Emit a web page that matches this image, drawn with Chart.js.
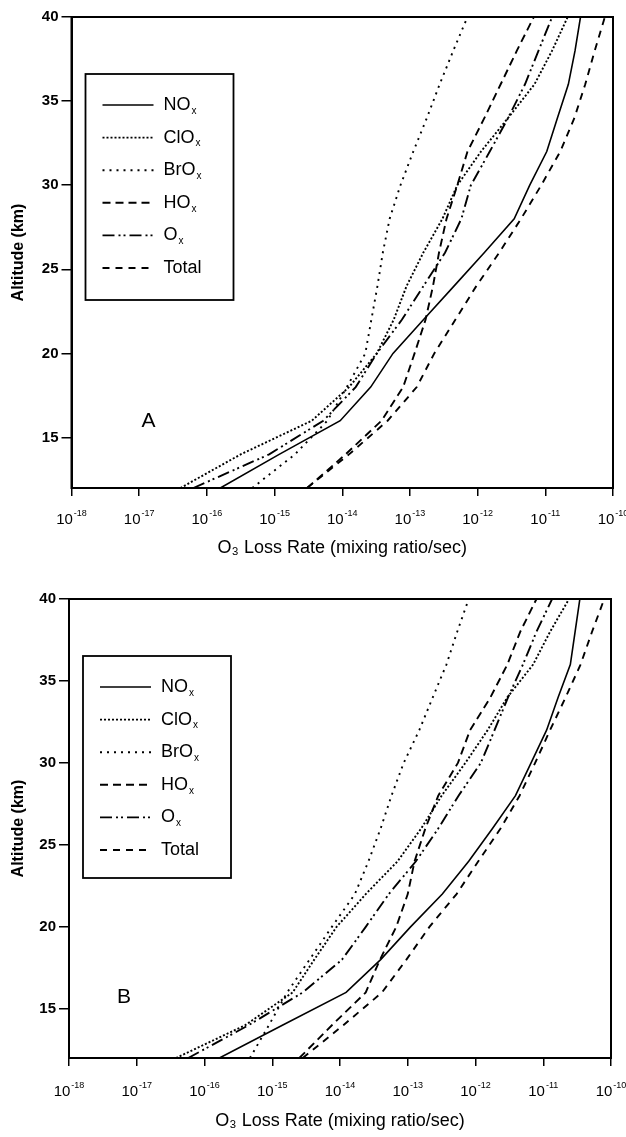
<!DOCTYPE html>
<html>
<head>
<meta charset="utf-8">
<script src="https://cdn.jsdelivr.net/npm/chart.js@4.4.1/dist/chart.umd.min.js"></script>
<style>
  html, body { margin: 0; padding: 0; background: #fff; }
  .panel { position: absolute; left: 0; }
  #panelA { top: 0; }
  #panelB { top: 570px; }
</style>
</head>
<body>
<div class="panel" id="panelA"><canvas id="chartA" width="626" height="565"></canvas></div>
<div class="panel" id="panelB"><canvas id="chartB" width="626" height="567"></canvas></div>
<script>
// altitude levels (km) shared by every profile
var altitudes = [12, 14, 16, 18, 20, 22, 24, 26, 28, 30, 32, 34, 36, 38, 40];

// axis ticks
var rateTicks = [1e-18, 1e-17, 1e-16, 1e-15, 1e-14, 1e-13, 1e-12, 1e-11, 1e-10];
var altTicks = [15, 20, 25, 30, 35, 40];

var seriesLabels = ['NOx', 'ClOx', 'BrOx', 'HOx', 'Ox', 'Total'];

// panel A - O3 loss rate (mixing ratio/sec)
var noxA   = [1.58e-16, 1.17e-15, 9.33e-15, 2.63e-14, 5.62e-14, 1.58e-13, 4.47e-13, 1.26e-12, 3.47e-12, 5.89e-12, 1.05e-11, 1.51e-11, 2.19e-11, 2.75e-11, 3.31e-11];
var cloxA  = [4.07e-17, 3.16e-16, 3.55e-15, 1.26e-14, 3.24e-14, 5.75e-14, 8.91e-14, 1.58e-13, 3.02e-13, 5.01e-13, 1.12e-12, 2.82e-12, 6.92e-12, 1.26e-11, 2.14e-11];
var broxA  = [4.68e-16, 2.00e-15, 6.03e-15, 1.17e-14, 2.19e-14, 2.69e-14, 3.31e-14, 3.98e-14, 5.01e-14, 7.24e-14, 1.12e-13, 1.78e-13, 2.75e-13, 4.37e-13, 7.08e-13];
var hoxA   = [3.02e-15, 1.12e-14, 3.80e-14, 7.94e-14, 1.17e-13, 1.70e-13, 2.19e-13, 2.69e-13, 3.47e-13, 5.01e-13, 7.08e-13, 1.26e-12, 2.19e-12, 3.80e-12, 6.76e-12];
var oxA    = [6.31e-17, 8.32e-16, 5.25e-15, 1.58e-14, 3.24e-14, 7.59e-14, 1.58e-13, 3.31e-13, 5.75e-13, 7.94e-13, 1.51e-12, 2.82e-12, 5.01e-12, 7.94e-12, 1.26e-11];
var totalA = [3.02e-15, 1.26e-14, 4.68e-14, 1.26e-13, 2.29e-13, 4.68e-13, 9.55e-13, 2.09e-12, 4.37e-12, 8.71e-12, 1.66e-11, 2.69e-11, 3.89e-11, 5.37e-11, 7.59e-11];

// panel B
var noxB   = [1.66e-16, 1.41e-15, 1.23e-14, 3.98e-14, 1.10e-13, 3.24e-13, 7.94e-13, 1.78e-12, 3.89e-12, 6.61e-12, 1.12e-11, 1.66e-11, 2.51e-11, 2.95e-11, 3.47e-11];
var cloxB  = [3.80e-17, 3.98e-16, 2.00e-15, 4.17e-15, 8.91e-15, 2.40e-14, 7.08e-14, 1.58e-13, 3.16e-13, 7.08e-13, 1.51e-12, 2.95e-12, 7.08e-12, 1.26e-11, 2.40e-11];
var broxB  = [4.68e-16, 8.91e-16, 1.66e-15, 3.55e-15, 7.59e-15, 1.66e-14, 2.63e-14, 3.98e-14, 5.75e-14, 8.71e-14, 1.48e-13, 2.34e-13, 3.72e-13, 5.37e-13, 7.94e-13];
var hoxB   = [2.51e-15, 7.59e-15, 2.40e-14, 3.89e-14, 6.76e-14, 1.00e-13, 1.26e-13, 1.82e-13, 2.82e-13, 5.50e-13, 8.32e-13, 1.66e-12, 2.95e-12, 4.57e-12, 7.94e-12];
var oxB    = [5.75e-17, 4.47e-16, 2.82e-15, 1.07e-14, 2.40e-14, 5.25e-14, 1.32e-13, 2.82e-13, 5.62e-13, 1.20e-12, 1.91e-12, 3.02e-12, 5.01e-12, 7.94e-12, 1.35e-11];
var totalB = [2.82e-15, 1.12e-14, 4.17e-14, 9.55e-14, 2.09e-13, 5.25e-13, 1.10e-12, 2.34e-12, 4.47e-12, 7.59e-12, 1.26e-11, 2.14e-11, 3.55e-11, 5.25e-11, 7.94e-11];

// line styles for each species (dash pattern)
var dashes = {
  NOx: [],
  ClOx: [2, 2],
  BrOx: [2, 5],
  HOx: [8, 5],
  Ox: [12, 4, 2, 3, 2, 4],
  Total: [7, 6]
};

var FONT = '"Liberation Sans", Arial, sans-serif';

// frame, tick labels, panel letter and in-plot legend
var framePlugin = {
  id: 'frame',
  afterDraw: function(chart, args, opts) {
    var ctx = chart.ctx, a = chart.chartArea, xs = chart.scales.x;
    ctx.save();
    ctx.strokeStyle = '#000';
    ctx.fillStyle = '#000';
    ctx.lineWidth = 2;
    ctx.setLineDash([]);
    ctx.strokeRect(a.left, a.top, a.right - a.left, a.bottom - a.top);

    // x tick labels: 10 with a raised exponent
    ctx.textBaseline = 'alphabetic';
    ctx.textAlign = 'left';
    rateTicks.forEach(function(v) {
      var px = xs.getPixelForValue(v);
      var ex = String(Math.round(Math.log10(v)));
      ctx.font = '15px ' + FONT;
      var w1 = ctx.measureText('10').width;
      ctx.font = '9px ' + FONT;
      var w2 = ctx.measureText(ex).width;
      var x0 = px - (w1 + w2 + 1) / 2;
      ctx.font = '15px ' + FONT;
      ctx.fillText('10', x0, a.bottom + opts.labelY);
      ctx.font = '9px ' + FONT;
      ctx.fillText(ex, x0 + w1 + 1, a.bottom + opts.labelY - 8);
    });

    // panel letter
    ctx.font = '21px ' + FONT;
    ctx.textAlign = 'center';
    ctx.textBaseline = 'middle';
    ctx.fillText(opts.letter, a.left + opts.letterX, a.bottom + opts.letterY);

    // legend box
    var bx = a.left + 14, by = a.top + opts.boxTop, bw = 148, bh = opts.boxH;
    ctx.lineWidth = 1.8;
    ctx.strokeRect(bx, by, bw, bh);
    ctx.textAlign = 'left';
    chart.data.datasets.forEach(function(ds, i) {
      var y = by + 31 + i * opts.rowGap;
      ctx.beginPath();
      ctx.setLineDash(ds.borderDash);
      ctx.lineWidth = ds.borderWidth;
      ctx.moveTo(bx + 17, y);
      ctx.lineTo(bx + 68, y);
      ctx.stroke();
      ctx.setLineDash([]);
      var lbl = ds.label, main = lbl, sub = '';
      if (lbl.slice(-1) === 'x') { main = lbl.slice(0, -1); sub = 'x'; }
      ctx.font = '18px ' + FONT;
      ctx.fillText(main, bx + 78, y);
      var w = ctx.measureText(main).width;
      if (sub) {
        ctx.font = '10px ' + FONT;
        ctx.fillText(sub, bx + 78 + w + 1, y + 6);
      }
    });
    ctx.restore();
  }
};

function makeChart(id, values, pad, leftW, bottomH, extra) {
  var datasets = seriesLabels.map(function(name, i) {
    return {
      label: name,
      data: altitudes.map(function(h, k) { return {x: values[i][k], y: h}; }),
      borderColor: '#000',
      borderWidth: name === 'NOx' ? 1.6 : 1.9,
      borderDash: dashes[name],
      pointRadius: 0,
      fill: false,
      tension: 0
    };
  });
  return new Chart(document.getElementById(id), {
    type: 'line',
    data: { datasets: datasets },
    plugins: [framePlugin],
    options: {
      responsive: false,
      animation: false,
      layout: { padding: pad },
      plugins: {
        legend: { display: false },
        tooltip: { enabled: false },
        frame: extra
      },
      scales: {
        x: {
          type: 'logarithmic',
          min: 1e-18,
          max: 1e-10,
          afterBuildTicks: function(s) { s.ticks = rateTicks.map(function(v) { return {value: v, major: true}; }); },
          afterFit: function(s) { s.height = bottomH; s.paddingLeft = 0; s.paddingRight = 0; },
          grid: { drawOnChartArea: false, drawTicks: true, tickLength: 8, color: '#000', lineWidth: 1.5 },
          border: { display: true, color: '#000', width: 2 },
          ticks: { display: false, autoSkip: false, maxRotation: 0 },
          title: {
            display: true,
            text: 'O₃ Loss Rate (mixing ratio/sec)',
            color: '#000',
            font: { family: FONT, size: 18 },
            padding: { top: 0, bottom: extra.xTitlePad }
          }
        },
        y: {
          type: 'linear',
          min: 12,
          max: 40,
          afterBuildTicks: function(s) { s.ticks = altTicks.map(function(v) { return {value: v}; }); },
          afterFit: function(s) { s.width = leftW; s.paddingTop = 0; s.paddingBottom = 0; },
          grid: { drawOnChartArea: false, drawTicks: true, tickLength: 10, color: '#000', lineWidth: 1.5 },
          border: { display: true, color: '#000', width: 2 },
          ticks: {
            padding: 3,
            color: '#000',
            font: { family: FONT, size: 15, weight: 'bold' }
          },
          title: {
            display: true,
            text: 'Altitude (km)',
            color: '#000',
            font: { family: FONT, size: 16, weight: 'bold' },
            padding: { top: 9, bottom: 0 }
          }
        }
      }
    }
  });
}

makeChart('chartA', [noxA, cloxA, broxA, hoxA, oxA, totalA],
  { top: 17, right: 13, left: 0, bottom: 0 }, 71.5, 77,
  { letter: 'A', letterX: 77, letterY: -67, boxTop: 57, boxH: 226, rowGap: 32.6, xTitlePad: 6, labelY: 36 });

makeChart('chartB', [noxB, cloxB, broxB, hoxB, oxB, totalB],
  { top: 29, right: 15, left: 0, bottom: 0 }, 69, 79,
  { letter: 'B', letterX: 55, letterY: -61, boxTop: 57, boxH: 222, rowGap: 32.6, xTitlePad: 5, labelY: 38 });
</script>
</body>
</html>
